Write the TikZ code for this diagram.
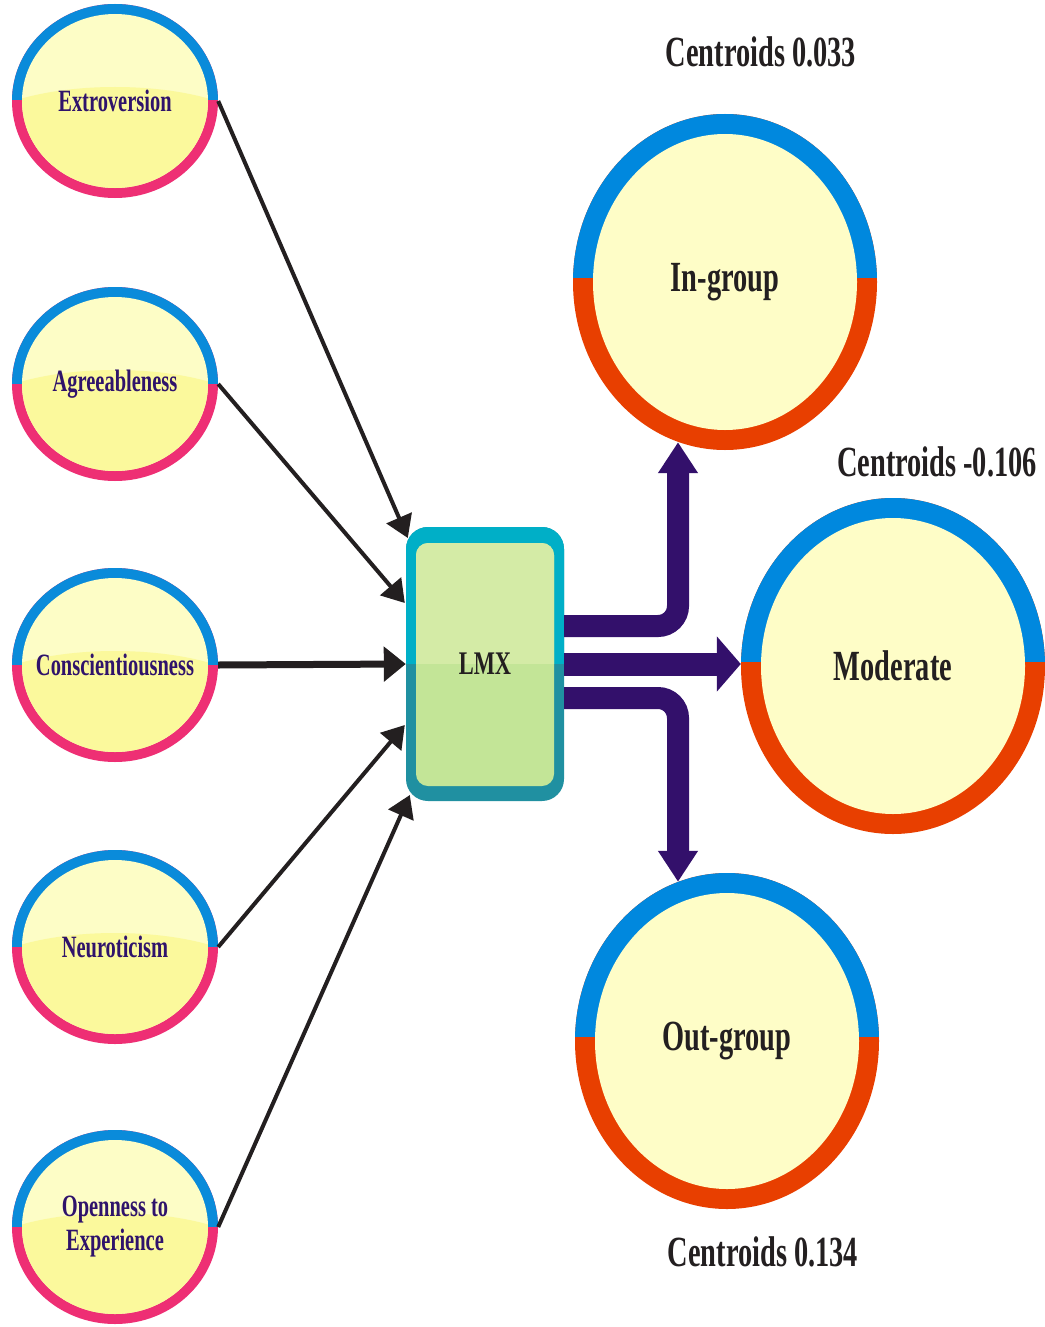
\documentclass[tikz,border=0pt]{standalone}
\usepackage{fontspec}
\setmainfont{Liberation Serif}
\newfontfamily\condfont[FakeStretch=0.66]{Liberation Serif}
\newfontfamily\condlfont[FakeStretch=0.68]{Liberation Serif}
\usetikzlibrary{arrows.meta,shapes.geometric,calc}
\definecolor{lblue}{HTML}{0A8BDA}
\definecolor{lpink}{HTML}{EE2F74}
\definecolor{ylight}{HTML}{FDFDC6}
\definecolor{ydark}{HTML}{FBF99C}
\definecolor{rfill}{HTML}{FEFDC7}
\definecolor{rblue}{HTML}{0088DE}
\definecolor{rred}{HTML}{E83F00}
\definecolor{purp}{HTML}{33106B}
\definecolor{ink}{HTML}{231F20}
\definecolor{ltext}{HTML}{2F136B}
\definecolor{cyanb}{HTML}{00AFC7}
\definecolor{tealb}{HTML}{2090A1}
\definecolor{lmxtop}{HTML}{D4EBA6}
\definecolor{lmxbot}{HTML}{C3E597}
\newcommand\leftring[1]{%
  \begin{scope}[shift={(115,#1)}]
    \fill[lpink] (0,0) ellipse [x radius=103, y radius=97];
    \begin{scope}
      \clip (-110,-110) rectangle (110,-1);
      \fill[lblue] (0,0) ellipse [x radius=103, y radius=97];
    \end{scope}
    \fill[ylight] (0,0) ellipse [x radius=93, y radius=87];
    \begin{scope}
      \clip (0,0) ellipse [x radius=93, y radius=87];
      \fill[ydark] (-95,-2) .. controls (-40,-18) and (40,-18) .. (95,-2) -- (95,95) -- (-95,95) -- cycle;
    \end{scope}
  \end{scope}}
\newcommand\rightring[2]{%
  \begin{scope}[shift={(#1,#2)}]
    \fill[rred] (0,0) ellipse [x radius=152, y radius=168];
    \begin{scope}
      \clip (-160,-175) rectangle (160,-5);
      \fill[rblue] (0,0) ellipse [x radius=152, y radius=168];
    \end{scope}
    \fill[rfill] (0,0) ellipse [x radius=132, y radius=148];
  \end{scope}}
\tikzset{
  leftlbl/.style={ellipse, minimum width=206, minimum height=194, inner sep=0, align=center,
    text=ltext, font=\condfont\bfseries\fontsize{31}{34}\selectfont},
  rightlbl/.style={ellipse, minimum width=304, minimum height=336, inner sep=0,
    text=ink, font=\condfont\bfseries\fontsize{43}{46}\selectfont},
  cent/.style={text=ink, inner sep=0, font=\condfont\bfseries\fontsize{43}{46}\selectfont},
  lmxnode/.style={rectangle, minimum width=158, minimum height=274, inner sep=0,
    text=ink, font=\condlfont\bfseries\fontsize{33}{36}\selectfont},
  inarrow/.style={draw=ink, line width=4, -{Triangle[length=22pt,width=27pt]}},
  purparrow/.style={draw=purp, line width=22, rounded corners=20, -{Triangle[length=31pt,width=38pt]}}
}
\begin{document}
\begin{tikzpicture}[x=1pt,y=-1pt]
\useasboundingbox (0,0) rectangle (1044,1327);
\fill[white] (0,0) rectangle (1044,1327);

% left rings
\leftring{101}
\leftring{384}
\leftring{665}
\leftring{947}
\leftring{1227}

% right rings
\rightring{725}{282}
\rightring{893}{666}
\rightring{727}{1041}

% LMX box
\fill[tealb, rounded corners=22] (406,527) rectangle (564,801);
\begin{scope}
  \clip (400,520) rectangle (570,663);
  \fill[cyanb, rounded corners=22] (406,527) rectangle (564,801);
\end{scope}
\fill[lmxbot, rounded corners=12] (416,543) rectangle (554,786);
\begin{scope}
  \clip (400,520) rectangle (570,663);
  \fill[lmxtop, rounded corners=12] (416,543) rectangle (554,786);
\end{scope}

% nodes
\node[leftlbl] (ext) at (115,101) {\makebox[0pt]{Extroversion}};
\node[leftlbl] (agr) at (115,384) {\makebox[0pt]{Agreeableness}};
\node[leftlbl] (con) at (115,665) {\makebox[0pt]{Conscientiousness}};
\node[leftlbl] (neu) at (115,947) {\makebox[0pt]{Neuroticism}};
\node[leftlbl] (ope) at (115,1227) {Openness to\\Experience};
\node[lmxnode] (lmx) at (485,664) {LMX};
\node[rightlbl] (ing) at (725,282) {In-group};
\node[rightlbl] (mod) at (893,666) {Moderate};
\node[rightlbl] (outg) at (727,1041) {Out-group};
\node[cent] (c1) at (761,52) {Centroids 0.033};
\node[cent] (c2) at (937,462) {Centroids -0.106};
\node[cent] (c3) at (763,1252) {Centroids 0.134};

% black arrows
\draw[inarrow] (ext.east) -- ([xshift=2pt,yshift=126pt]lmx.west);
\draw[inarrow] (agr.east) -- ([xshift=-1pt,yshift=61pt]lmx.west);
\draw[inarrow, line width=7, -{Triangle[length=22pt,width=34pt]}] (con.east) -- (lmx.west);
\draw[inarrow] (neu.east) -- ([xshift=-1pt,yshift=-61pt]lmx.west);
\draw[inarrow] (ope.east) -- ([xshift=4pt,yshift=-131pt]lmx.west);

% purple arrows
\draw[purparrow] ([yshift=38pt]lmx.east) -| ([xshift=-47pt,yshift=8pt]ing.south);
\draw[purparrow] ([yshift=-34pt]lmx.east) -| ([xshift=-49pt,yshift=-9pt]outg.north);
\draw[draw=purp, line width=23, -{Triangle[length=24pt,width=54pt]}] (lmx.east) -- (lmx.east -| mod.west);
\end{tikzpicture}
\end{document}
